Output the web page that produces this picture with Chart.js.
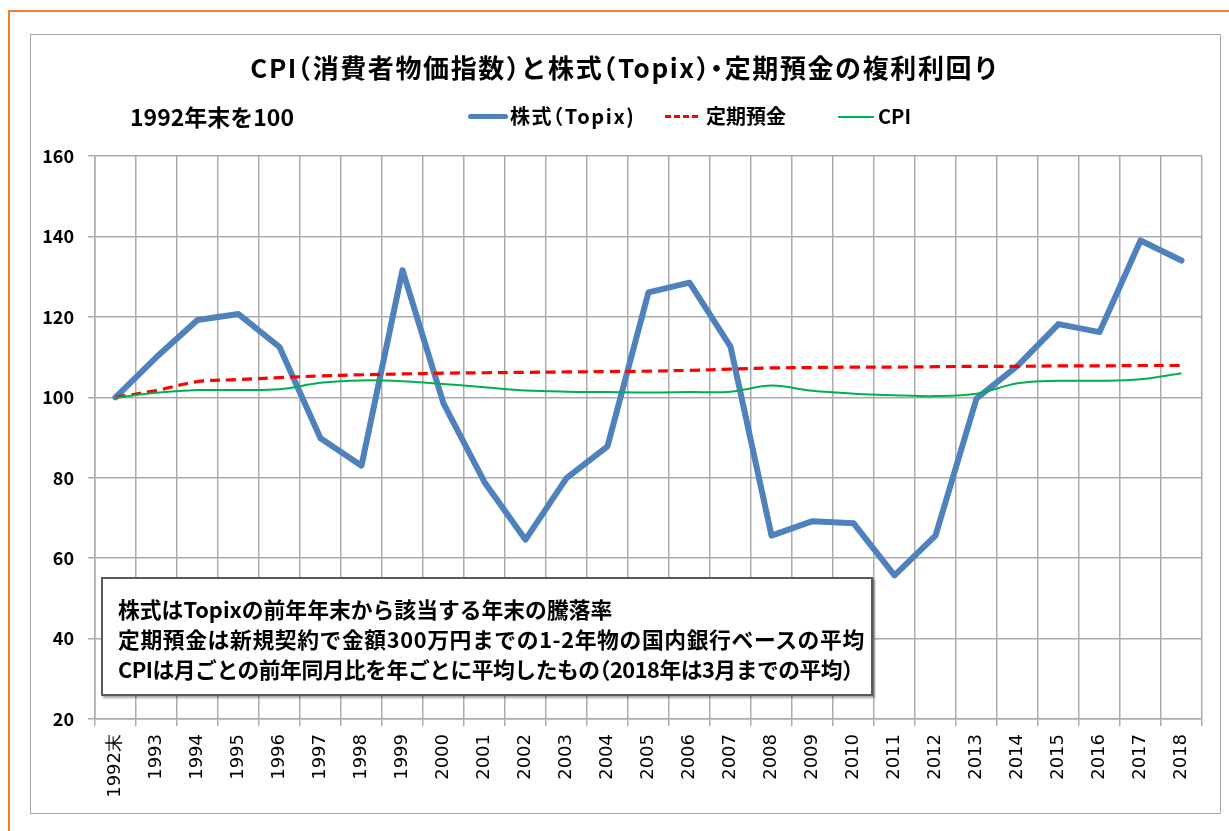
<!DOCTYPE html>
<html><head><meta charset="utf-8">
<script src="https://cdn.jsdelivr.net/npm/chart.js@4.4.1/dist/chart.umd.min.js"></script>
<style>
html,body{margin:0;padding:0;background:#fff;width:1229px;height:831px;overflow:hidden;font-family:"Noto Sans CJK JP","Noto Sans",sans-serif;}
#frame{position:absolute;left:8px;top:10px;width:1260px;height:860px;border-left:2px solid #ED7D31;border-top:2px solid #ED7D31;}
#box{position:absolute;left:30px;top:34px;width:1189px;height:778px;border:1px solid #A6A6A6;}
#wrap{position:absolute;left:31px;top:35px;width:1189px;height:778px;}
#title{position:absolute;left:31px;width:1189px;top:49px;text-align:center;font-weight:bold;font-size:26px;line-height:36px;color:#000;letter-spacing:1.6px;}
#sub{position:absolute;left:130px;top:101px;font-weight:bold;font-size:23px;line-height:30px;color:#000;}
.lg{position:absolute;top:102px;font-weight:bold;font-size:20px;line-height:28px;color:#000;white-space:nowrap;}
.sw{position:absolute;}
.p{font-feature-settings:"halt";}
#note{position:absolute;left:101px;top:577px;width:772px;height:119px;background:#fff;border:2px solid #595959;box-shadow:2px 2px 2px rgba(0,0,0,0.35);box-sizing:border-box;padding:15px 0 0 15px;font-weight:bold;font-size:21.8px;line-height:30px;color:#000;white-space:nowrap;}
</style></head>
<body>
<div id="frame"></div>
<div id="box"></div>
<div id="wrap"><canvas id="c" width="1189" height="778"></canvas></div>
<div id="title">CPI<span class="p">（</span>消費者物価指数<span class="p">）</span>と株式<span class="p">（</span>Topix<span class="p">）・</span>定期預金の複利利回り</div>
<div id="sub">1992年末を100</div>
<div class="sw" style="left:468px;top:114px;width:40px;height:5px;background:#4F81BD;border-radius:3px;"></div>
<div class="lg" style="left:510px;letter-spacing:1.6px;">株式<span class="p">（</span>Topix)</div>
<div class="sw" style="left:665px;top:115px;width:33px;height:0;border-top:3px dashed #FF0000;"></div>
<div class="lg" style="left:706px;">定期預金</div>
<div class="sw" style="left:838px;top:116px;width:36px;height:2px;background:#00B050;"></div>
<div class="lg" style="left:878px;">CPI</div>
<div id="note">株式はTopixの前年年末から該当する年末の騰落率<br><span style="letter-spacing:0.6px">定期預金は新規契約で金額300万円までの1-2年物の国内銀行ベースの平均</span><br><span style="letter-spacing:-0.5px">CPIは月ごとの前年同月比を年ごとに平均したもの<span class="p">（</span>2018年は3月までの平均<span class="p">）</span></span></div>
<script>
const categories = ["1992末","1993","1994","1995","1996","1997","1998","1999","2000","2001","2002","2003","2004","2005","2006","2007","2008","2009","2010","2011","2012","2013","2014","2015","2016","2017","2018"];
const topix = [100,110,119.2,120.7,112.5,89.8,83.0,131.6,98.5,78.9,64.6,79.9,87.8,126.1,128.5,112.6,65.6,69.2,68.7,55.7,65.6,99.7,107.8,118.2,116.2,139.0,134.0];
const deposit = [100,101.7,103.9,104.4,104.9,105.3,105.6,105.8,106.0,106.1,106.2,106.3,106.4,106.5,106.7,107.0,107.3,107.4,107.5,107.5,107.6,107.7,107.7,107.8,107.8,107.9,107.9];
const cpi = [99.9,101.1,101.8,101.8,102.0,103.6,104.2,104.0,103.3,102.5,101.7,101.4,101.3,101.2,101.3,101.4,102.9,101.6,100.9,100.5,100.3,100.9,103.5,104.1,104.1,104.5,106.0];
const yTicks = {min:20, max:160, step:20};

const gridColor = '#ABABAB';
new Chart(document.getElementById('c'), {
  type: 'line',
  data: {
    labels: categories,
    datasets: [
      {label:'株式（Topix)', data: topix, borderColor:'#4F81BD', borderWidth:6, pointRadius:0, tension:0, order:3, borderJoinStyle:'round', borderCapStyle:'round'},
      {label:'定期預金', data: deposit, borderColor:'#FF0000', borderWidth:3.2, borderDash:[10,6], pointRadius:0, tension:0.35, order:2},
      {label:'CPI', data: cpi, borderColor:'#00B050', borderWidth:2, pointRadius:0, tension:0.35, order:1}
    ]
  },
  options: {
    responsive:false, animation:false,
    layout:{padding:{left:0,right:18,top:121,bottom:0}},
    plugins:{legend:{display:false}, title:{display:false}, tooltip:{enabled:false}},
    scales:{
      x:{
        offset:true,
        grid:{offset:true, color:gridColor, lineWidth:1.5, tickLength:7, drawTicks:true},
        border:{color:gridColor, width:1.5},
        ticks:{maxRotation:90, minRotation:90, autoSkip:false, padding:8, color:'#000', font:{family:'DejaVu Sans', size:18}},
        afterFit(s){ s.height = 94; }
      },
      y:{
        min:yTicks.min, max:yTicks.max,
        grid:{color:gridColor, lineWidth:1.5, tickLength:7},
        border:{color:gridColor, width:1.5},
        ticks:{stepSize:yTicks.step, padding:14, color:'#000', font:{family:'Noto Sans CJK JP', size:18, weight:'bold'}},
        afterFit(s){ s.width = 64; }
      }
    }
  }
});
</script>
</body></html>
